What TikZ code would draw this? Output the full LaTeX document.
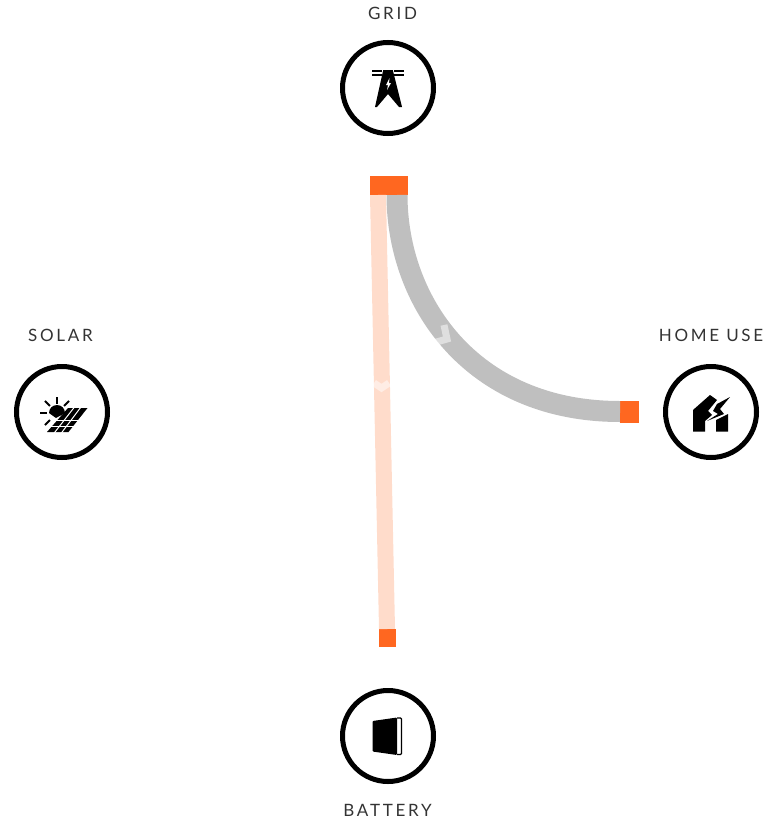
\documentclass[tikz,border=0pt]{standalone}
\usepackage{fontspec}
\setmainfont{Lato}[LetterSpace=16]
\usetikzlibrary{positioning}
\definecolor{port}{HTML}{ff6720}
\definecolor{flowpink}{HTML}{ffdccb}
\definecolor{flowgray}{HTML}{bfbfbf}
\definecolor{labelink}{HTML}{333333}
\tikzset{
  ring/.style={circle,draw=black,line width=5pt,minimum size=91pt,inner sep=0pt},
  portbox/.style={fill=port,inner sep=0pt,outer sep=0pt},
  caption/.style={font=\fontsize{17}{17}\selectfont,text=labelink,inner sep=0pt},
  chevron/.style={draw=white,opacity=0.5,line width=7pt,miter limit=10},
}

\begin{document}
\begin{tikzpicture}[x=1pt,y=-1pt]
  \useasboundingbox (0,0) rectangle (766,827);
  % rings and their labels
  \node[ring] (grid) at (388,88) {};
  \node[ring] (solar) at (62,412) {};
  \node[ring] (home) at (711,412) {};
  \node[ring] (battery) at (388,736) {};
  \node[caption] (gridlabel) at (392.5,13) {GRID};
  \node[caption] (solarlabel) at (60.5,335.5) {SOLAR};
  \node[caption] (homelabel) at (711,335.5) {HOME USE};
  \node[caption] (batterylabel) at (387.5,810.5) {BATTERY};
  % ports
  \node[portbox,minimum width=38pt,minimum height=19pt] (gridport) at (389,185.5) {};
  \node[portbox,minimum width=19pt,minimum height=22pt] (homeport) at (629.5,412) {};
  \node[portbox,minimum width=17pt,minimum height=18pt] (batteryport) at (387.5,638) {};
  \coordinate (gridpink) at (378,195);
  \coordinate (gridgray) at (397,195);
  \coordinate (homegray) at (620,411.5);
  \coordinate (batterypink) at (387,629);
  % flows
  \draw[flowgray,line width=21pt] (gridgray) .. controls (397,300) and (470,411.5) .. (homegray);
  \draw[flowpink,line width=16pt] (gridpink) -- (batterypink);
  \draw[chevron] (374,383) -- (381.5,388) -- (389,383);
  \draw[chevron] (433,343) -- (447,339) -- (444,325);
  % grid tower
  \fill (383,71) -- (393,71) -- (402,107) -- (399,107) -- (388,94) -- (377,107) -- (375,107) -- cycle;
  \draw[line width=1.3pt,dash pattern=on 10pt off 1pt] (372,71) -- (405,71);
  \draw[line width=1.3pt,dash pattern=on 10pt off 1pt] (372,75) -- (405,75);
  \fill[white] (389.5,78) -- (386,85) -- (388,85) -- (387,90) -- (391,83) -- (389,83) -- cycle;
  % solar panel and sun
  \fill (49,413) arc[start angle=180,end angle=360,radius=8] -- (56,418) -- cycle;
  \foreach \a/\r in {180/10,225/10,270/9,315/10,135/10} {
    \draw[line width=1.8pt] (57,413) ++(\a:\r) -- ++(\a:7);
  }
  \fill (68,408) -- (87.5,408) -- (68.5,432) -- (47,432) -- cycle;
  \foreach \i in {1,2} {
    \draw[white,line width=1pt] (68+\i*6.5,407) -- (47+\i*7.2,433);
  }
  \draw[white,line width=1pt] (56,420) -- (80,420);
  \draw[white,line width=1pt] (50,426.5) -- (74,426.5);
  % home with bolt
  \fill (693,431.5) -- (693,410) -- (710,395) -- (717,400) -- (708,411) -- (712,415) -- (705,421) -- (705,431.5) -- cycle;
  \fill (716,431.5) -- (716,420) -- (728,414) -- (728,431.5) -- cycle;
  \fill (730,397) -- (717,404) -- (713,411) -- (718,414) -- (707,421) -- (724,414) -- (720,409) -- cycle;
  % battery
  \fill[rounded corners=1pt] (372.5,721) -- (397,717.5) -- (397,755) -- (372.5,751.5) -- cycle;
  \draw[line width=1.2pt,rounded corners=1pt] (397,718) -- (401.5,718) -- (401.5,754.5) -- (397,754.5);
\end{tikzpicture}
\end{document}
